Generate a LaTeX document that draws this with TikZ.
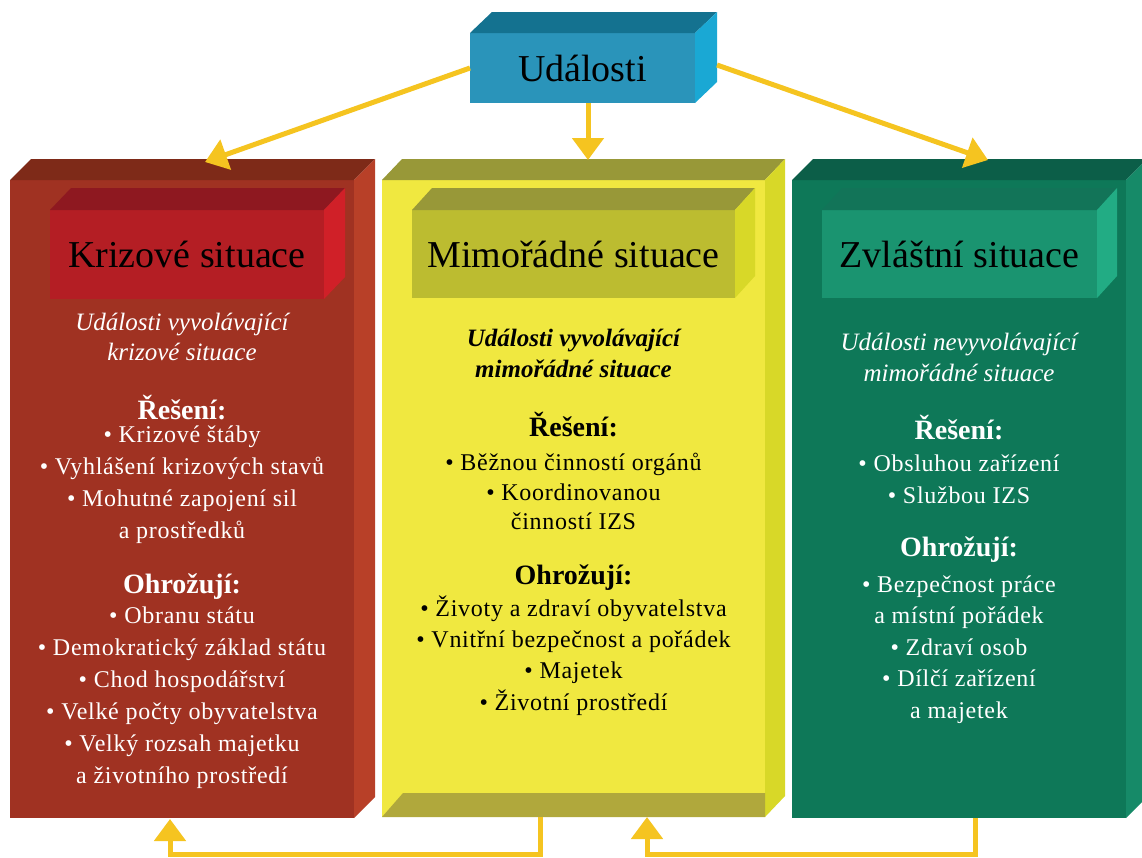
\documentclass[tikz,border=0pt]{standalone}
\usepackage{fontspec}
\setmainfont{Liberation Serif}
\newfontfamily\bodyfont[LetterSpace=3]{Liberation Serif}
\usetikzlibrary{arrows.meta,calc}

% colours of the boxes
\definecolor{arrowcol}{HTML}{F5C420}
\definecolor{blueFront}{HTML}{2A94BA}
\definecolor{blueTop}{HTML}{147290}
\definecolor{blueSide}{HTML}{1AA8D4}
\definecolor{redFront}{HTML}{A03222}
\definecolor{redTop}{HTML}{7E2A18}
\definecolor{redSide}{HTML}{B84028}
\definecolor{redInFront}{HTML}{B41E24}
\definecolor{redInTop}{HTML}{8E1820}
\definecolor{redInSide}{HTML}{D02028}
\definecolor{yelFront}{HTML}{F0E840}
\definecolor{yelTop}{HTML}{989838}
\definecolor{yelSide}{HTML}{D8D828}
\definecolor{yelBottom}{HTML}{B0A83C}
\definecolor{yelInFront}{HTML}{BCBC30}
\definecolor{grnFront}{HTML}{0E7858}
\definecolor{grnTop}{HTML}{0C5E48}
\definecolor{grnSide}{HTML}{168A68}
\definecolor{grnInFront}{HTML}{1A9470}
\definecolor{grnInTop}{HTML}{127458}
\definecolor{grnInSide}{HTML}{22AC84}

% top and right faces of a box whose front face is a node
\newcommand\boxsides[5]{%
  \fill[#4] (#1.north west) -- ++(#2,-#3) -- ($(#1.north east)+(#2,-#3)$) -- (#1.north east) -- cycle;
  \fill[#5] (#1.north east) -- ++(#2,-#3) -- ($(#1.south east)+(#2,-#3)$) -- (#1.south east) -- cycle;}

\begin{document}
\begin{tikzpicture}[x=1pt,y=-1pt,
  face/.style={rectangle, inner sep=0pt, outer sep=0pt},
  title/.style={face, text=black, font=\fontsize{38}{40}\selectfont},
  arr/.style={draw=arrowcol, line width=5pt, -{Triangle[width=31pt,length=22pt]}},
  body/.style={align=center, inner sep=0pt, font=\bodyfont\fontsize{24}{32}\selectfont},
  sub/.style={align=center, inner sep=0pt, font=\itshape\fontsize{25}{30}\selectfont},
  head/.style={inner sep=0pt, font=\bfseries\fontsize{28}{30}\selectfont}]
\useasboundingbox (0,0) rectangle (1142,857);
\fill[white] (0,0) rectangle (1142,857);

% ---- outer columns ----
\node[face, fill=redFront, minimum width=344pt, minimum height=638pt] (krizOuter) at (182,499) {};
\boxsides{krizOuter}{21}{21}{redTop}{redSide}

\node[face, fill=yelFront, minimum width=383pt, minimum height=637pt] (mimoOuter) at (573.5,498.5) {};
\boxsides{mimoOuter}{20}{21}{yelTop}{yelSide}
\fill[yelBottom] ($(mimoOuter.south west)+(21,-24)$) -- ($(mimoOuter.south east)+(0,-24)$)
  -- (mimoOuter.south east) -- (mimoOuter.south west) -- cycle;

\node[face, fill=grnFront, minimum width=334pt, minimum height=638pt] (zvlOuter) at (959,499) {};
\boxsides{zvlOuter}{21}{21}{grnTop}{grnSide}

% ---- title boxes ----
\node[title, fill=blueFront, minimum width=225pt, minimum height=70pt] (udal) at (582.5,68) {Události};
\boxsides{udal}{22}{21}{blueTop}{blueSide}

\node[title, fill=redInFront, minimum width=274pt, minimum height=89pt] (krizTitle) at (187,254.5) {Krizové situace};
\boxsides{krizTitle}{21}{22}{redInTop}{redInSide}

\node[title, fill=yelInFront, minimum width=323pt, minimum height=88pt] (mimoTitle) at (573.5,254) {Mimořádné situace};
\boxsides{mimoTitle}{20}{22}{yelTop}{yelSide}

\node[title, fill=grnInFront, minimum width=275pt, minimum height=88pt] (zvlTitle) at (959.5,254) {Zvláštní situace};
\boxsides{zvlTitle}{20}{22}{grnInTop}{grnInSide}

% ---- left column text ----
\begin{scope}[text=white]
\node[sub] (krizSub) at (182,337) {Události vyvolávající\\krizové situace};
\node[head] (krizRes) at (182,408) {Řešení:};
\node[body] (krizResList) at (182,485) {• Krizové štáby\\• Vyhlášení krizových stavů\\• Mohutné zapojení sil\\a prostředků};
\node[head] (krizOhr) at (182,587) {Ohrožují:};
\node[body] (krizOhrList) at (182,698) {• Obranu státu\\• Demokratický základ státu\\• Chod hospodářství\\• Velké počty obyvatelstva\\• Velký rozsah majetku\\a životního prostředí};
\end{scope}

% ---- middle column text ----
\node[sub, font=\bfseries\itshape\fontsize{25}{31}\selectfont] (mimoSub) at (573.5,353.5) {Události vyvolávající\\mimořádné situace};
\node[head] (mimoRes) at (573.5,425) {Řešení:};
\node[body, font=\bodyfont\fontsize{24}{29.5}\selectfont] (mimoResList) at (573.5,491.5) {• Běžnou činností orgánů\\• Koordinovanou\\činností IZS};
\node[head] (mimoOhr) at (573.5,578) {Ohrožují:};
\node[body, font=\bodyfont\fontsize{24}{31.3}\selectfont] (mimoOhrList) at (573.5,655.5) {• Životy a zdraví obyvatelstva\\• Vnitřní bezpečnost a pořádek\\• Majetek\\• Životní prostředí};

% ---- right column text ----
\begin{scope}[text=white]
\node[sub, font=\itshape\fontsize{25}{31}\selectfont] (zvlSub) at (959,357.5) {Události nevyvolávající\\mimořádné situace};
\node[head] (zvlRes) at (959,428) {Řešení:};
\node[body] (zvlResList) at (959,479) {• Obsluhou zařízení\\• Službou IZS};
\node[head] (zvlOhr) at (959,550) {Ohrožují:};
\node[body, font=\bodyfont\fontsize{24}{31.5}\selectfont] (zvlOhrList) at (959,649.5) {• Bezpečnost práce\\a místní pořádek\\• Zdraví osob\\• Dílčí zařízení\\a majetek};
\end{scope}

% ---- connectors ----
\coordinate (krizTip) at (205,162);
\coordinate (mimoTip) at (588,160);
\coordinate (zvlTip) at (988,160);
\draw[arr] (udal.west) -- (krizTip);
\draw[arr] ($(udal.south)+(5.5,0)$) -- (mimoTip);
\draw[arr] ($(udal.east)+(22,-3)$) -- (zvlTip);

\coordinate (mimoFoot) at (540,817);
\coordinate (krizFoot) at (170,819);
\coordinate (zvlFoot) at (975,818);
\coordinate (mimoIn) at (647,817);
\draw[arr] (mimoFoot) -- (540,854.5) -| (krizFoot);
\draw[arr] (zvlFoot) -- (975,854.5) -| (mimoIn);
\end{tikzpicture}
\end{document}
